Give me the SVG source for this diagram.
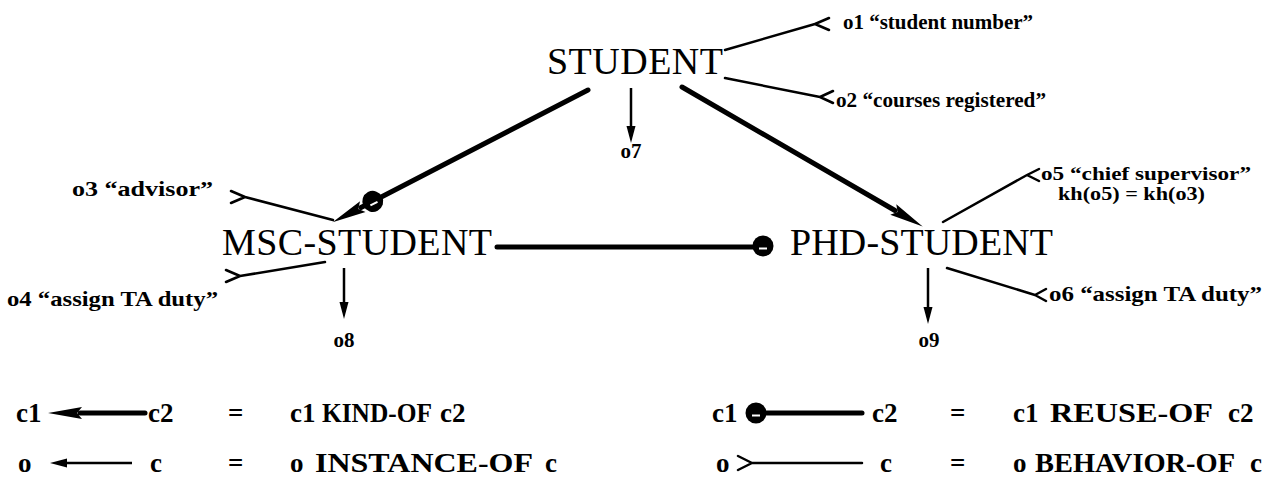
<svg xmlns="http://www.w3.org/2000/svg" width="1266" height="482" viewBox="0 0 1266 482">
<style>
.node{font-family:"Liberation Serif",serif;font-size:38px;fill:#000}
.lbl{font-family:"Liberation Serif",serif;font-weight:bold;font-size:21px;fill:#000}
.sm{font-size:19px}
.leg{font-family:"Liberation Serif",serif;font-weight:bold;font-size:27px;fill:#000}
.kind{stroke:#000;stroke-width:5;fill:none;stroke-linecap:round}
.inst{stroke:#000;stroke-width:2.5;fill:none}
.beh{stroke:#000;stroke-width:2.5;fill:none;stroke-linecap:round;stroke-linejoin:round}
</style>
<defs>
<marker id="kindHead" viewBox="0 -7 32 14" refX="0" refY="0" markerWidth="32" markerHeight="14" markerUnits="userSpaceOnUse" orient="auto" overflow="visible">
<path d="M-2,-6 L32,0 L-2,6 L3,0 z" fill="#000"/>
</marker>
<marker id="instHead" viewBox="0 -5 16 10" refX="0" refY="0" markerWidth="16" markerHeight="10" markerUnits="userSpaceOnUse" orient="auto" overflow="visible">
<path d="M-1,-4.5 L16,0 L-1,4.5 z" fill="#000"/>
</marker>
<g id="reuseSym">
<circle cx="0" cy="0" r="10.5" fill="#000"/>
<line x1="-4" y1="2.5" x2="4" y2="2.5" stroke="#fff" stroke-width="2"/>
</g>
</defs>

<g id="connectors">
<!-- STUDENT -> MSC-STUDENT (kind-of + reuse) -->
<path class="kind" d="M588,90 L361,207.5" marker-end="url(#kindHead)"/>
<use href="#reuseSym" transform="translate(372.8,201.4) rotate(-27.4)"/>
<!-- STUDENT -> PHD-STUDENT (kind-of) -->
<path class="kind" d="M682,87 L895,210.5" marker-end="url(#kindHead)"/>
<!-- MSC-STUDENT -> PHD-STUDENT (reuse) -->
<path class="kind" d="M497,247 L760,247"/>
<use href="#reuseSym" transform="translate(763,246)"/>
<!-- instance-of arrows -->
<path class="inst" d="M631,88 L631,127" marker-end="url(#instHead)"/>
<path class="inst" d="M344,268 L344,303" marker-end="url(#instHead)"/>
<path class="inst" d="M928,268 L928,308" marker-end="url(#instHead)"/>
<!-- behavior-of -->
<path class="beh" d="M725,50 L815,24 M829,18 L815,24 L829,30"/>
<path class="beh" d="M725,78 L820,97 M833,91 L820,97 L833,103"/>
<path class="beh" d="M333,220 L245,197 M231,191 L245,197 L231,203"/>
<path class="beh" d="M325,262 L240,276 M226,270 L240,276 L226,282"/>
<path class="beh" d="M943,222 L1027,175 M1039,169 L1027,175 L1039,181"/>
<path class="beh" d="M947,268 L1035,295 M1046,289 L1035,295 L1046,301"/>
</g>

<g id="student"><text class="node" x="547" y="74" textLength="176">STUDENT</text></g>
<g id="msc-student"><text class="node" x="222" y="255" textLength="270">MSC-STUDENT</text></g>
<g id="phd-student"><text class="node" x="790" y="255" textLength="263">PHD-STUDENT</text></g>

<g id="o1"><text class="lbl" x="843" y="29" textLength="190" lengthAdjust="spacingAndGlyphs">o1  “student number”</text></g>
<g id="o2"><text class="lbl" x="836" y="107" textLength="210" lengthAdjust="spacingAndGlyphs">o2  “courses registered”</text></g>
<g id="o3"><text class="lbl" x="72" y="196" textLength="141" lengthAdjust="spacingAndGlyphs">o3  “advisor”</text></g>
<g id="o4"><text class="lbl" x="7" y="306" textLength="211" lengthAdjust="spacingAndGlyphs">o4  “assign TA duty”</text></g>
<g id="o5"><text class="lbl sm" x="1041" y="180" textLength="210" lengthAdjust="spacingAndGlyphs">o5  “chief supervisor”</text>
<text class="lbl sm" x="1058" y="200" textLength="147" lengthAdjust="spacingAndGlyphs">kh(o5) = kh(o3)</text></g>
<g id="o6"><text class="lbl" x="1049" y="301" textLength="213" lengthAdjust="spacingAndGlyphs">o6  “assign TA duty”</text></g>
<g id="o7"><text class="lbl" x="631" y="158" text-anchor="middle">o7</text></g>
<g id="o8"><text class="lbl" x="344" y="347" text-anchor="middle">o8</text></g>
<g id="o9"><text class="lbl" x="929" y="347" text-anchor="middle">o9</text></g>

<g id="legend">
<text class="leg" x="16" y="422">c1</text>
<path class="kind" d="M145,413 L80,413" marker-end="url(#kindHead)"/>
<text class="leg" x="148" y="422">c2</text>
<text class="leg" x="228" y="422">=</text>
<text class="leg" x="290" y="422">c1</text>
<text class="leg" x="322" y="422" textLength="110" lengthAdjust="spacingAndGlyphs">KIND-OF</text>
<text class="leg" x="440" y="422">c2</text>

<text class="leg" x="18" y="472">o</text>
<path class="inst" d="M132,463 L66,463" marker-end="url(#instHead)"/>
<text class="leg" x="150" y="472">c</text>
<text class="leg" x="228" y="472">=</text>
<text class="leg" x="290" y="472">o</text>
<text class="leg" x="315" y="472" textLength="218" lengthAdjust="spacingAndGlyphs">INSTANCE-OF</text>
<text class="leg" x="545" y="472">c</text>

<text class="leg" x="712" y="422">c1</text>
<path class="kind" d="M862,413 L760,413"/>
<use href="#reuseSym" transform="translate(756,413)"/>
<text class="leg" x="872" y="422">c2</text>
<text class="leg" x="950" y="422">=</text>
<text class="leg" x="1013" y="422">c1</text>
<text class="leg" x="1050" y="422" textLength="163" lengthAdjust="spacingAndGlyphs">REUSE-OF</text>
<text class="leg" x="1228" y="422">c2</text>

<text class="leg" x="716" y="472">o</text>
<path class="beh" d="M862,463 L752,463 M738,456 L752,463 L738,470"/>
<text class="leg" x="880" y="472">c</text>
<text class="leg" x="950" y="472">=</text>
<text class="leg" x="1013" y="472">o</text>
<text class="leg" x="1035" y="472" textLength="200" lengthAdjust="spacingAndGlyphs">BEHAVIOR-OF</text>
<text class="leg" x="1250" y="472">c</text>
</g>
</svg>
